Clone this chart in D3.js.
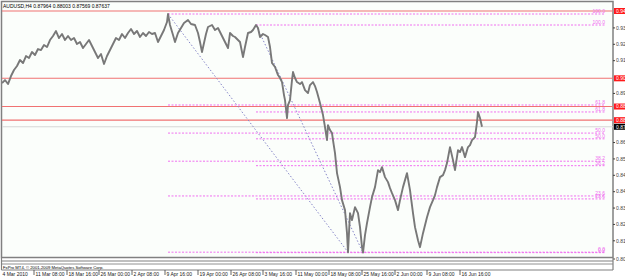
<!DOCTYPE html>
<html><head><meta charset="utf-8">
<script src="https://cdn.jsdelivr.net/npm/d3@7"></script>
<style>html,body{margin:0;padding:0;background:#fff;}svg{display:block;}</style>
</head><body>
<script>
// ---------- data ----------
const symbolTitle = "AUDUSD,H4  0.87964 0.88003 0.87569 0.87637";
const copyright = "FxPro MT4, \u00a9 2001-2009 MetaQuotes Software Corp.";
const barIndex = [0,3,6,9,12,15,18,21,24,27,30,33,36,39,42,45,48,51,54,57,60,63,66,69,72,75,78,81,84,87,90,93,96,99,102,105,108,111,114,117,120,123,126,129,132,135,138,141,144,147,150,153,156,159,162,165,166,168,171,173,176,179,182,186,189,193,196,198,200,202,204,206,210,213,216,218,221,224,226,228,231,233,236,238,241,243,246,249,251,254,256,258,261,263,266,268,270,273,276,278,280,282,283,285,286,288,290,291,293,295,298,300,303,306,308,311,313,315,318,321,323,325,326,328,330,331,333,335,338,340,343,345,346,348,350,353,356,358,360,361,363,365,368,370,373,376,378,380,383,386,388,390,393,396,398,401,403,405,408,411,413,416,418,421,423,425,428,431,433,435,438,441,443,445,448,451,453,456,458,460,463,466,468,470,473,475,476,478,480];
const closePrice = [0.90040,0.90205,0.89985,0.90425,0.90755,0.90975,0.91305,0.91140,0.91525,0.91415,0.91745,0.91580,0.91910,0.91855,0.92130,0.92020,0.92405,0.92625,0.92900,0.92515,0.92735,0.92405,0.92625,0.92405,0.92515,0.92185,0.92295,0.91965,0.92185,0.92405,0.92075,0.91745,0.91415,0.91635,0.91085,0.91525,0.91855,0.92185,0.92515,0.92405,0.92735,0.92515,0.92790,0.93010,0.92735,0.92900,0.92570,0.92790,0.92625,0.92845,0.92735,0.92790,0.92295,0.92625,0.92955,0.93395,0.93835,0.93230,0.92680,0.92295,0.92790,0.93065,0.93340,0.93505,0.93285,0.93230,0.92790,0.92295,0.91745,0.92240,0.92735,0.93120,0.93230,0.92955,0.93065,0.92845,0.92515,0.92185,0.91965,0.92790,0.92625,0.92570,0.92405,0.92295,0.91470,0.92020,0.92790,0.92845,0.92955,0.93230,0.93065,0.92570,0.92735,0.92680,0.92570,0.92020,0.91140,0.90920,0.90480,0.90315,0.90095,0.89380,0.89105,0.88115,0.88830,0.89105,0.90205,0.90645,0.90315,0.90095,0.89985,0.90095,0.89655,0.89490,0.89930,0.90095,0.89875,0.89545,0.88940,0.88280,0.87620,0.86905,0.87730,0.87455,0.87290,0.86905,0.86190,0.85090,0.84320,0.83605,0.83055,0.81790,0.80745,0.82890,0.82505,0.83220,0.82890,0.82120,0.81020,0.80720,0.81680,0.82340,0.83220,0.83770,0.84320,0.85255,0.85145,0.85420,0.84870,0.84595,0.84265,0.83990,0.83605,0.83055,0.83605,0.84320,0.84705,0.85090,0.84155,0.82890,0.82120,0.81405,0.81020,0.81790,0.82230,0.82670,0.83220,0.83605,0.83880,0.84320,0.84870,0.84980,0.85255,0.85640,0.86520,0.85805,0.85255,0.86355,0.86245,0.86520,0.85970,0.86520,0.86630,0.86905,0.87070,0.87895,0.88445,0.88115,0.87637];
const dateLabels = ["4 Mar 2010","11 Mar 08:00","18 Mar 16:00","26 Mar 00:00","2 Apr 08:00","9 Apr 16:00","19 Apr 00:00","26 Apr 08:00","3 May 16:00","11 May 00:00","18 May 08:00","25 May 16:00","2 Jun 00:00","9 Jun 08:00","16 Jun 16:00"];
const dateBars = [-1,32,65,97,130,163,196,229,261,294,327,360,393,425,458];
const priceTicks = [0.93070,0.92170,0.91270,0.89470,0.86770,0.85870,0.84970,0.84070,0.83170,0.82270,0.81370,0.80370];
const redLevels = [0.94000,0.90300,0.88750,0.88000];
const lastPrice = 0.87637;
const fibRatios = [0,23.6,38.2,50,61.8,100];
const fibHighBars = [166,254];
const fibHighs = [0.93835,0.93230];
const fibLowBars = [346,361];
const fibLows = [0.80745,0.80720];

// ---------- layout ----------
const W = 625, H = 277;
const x = d3.scaleLinear().domain([0, 611]).range([2, 613]);
const y = d3.scaleLinear().domain([0.80370, 0.94000]).range([259, 11]);
const font = "'Liberation Sans', Arial, sans-serif";

const svg = d3.select("body").append("svg").attr("width", W).attr("height", H)
  .style("font-family", font);
svg.append("rect").attr("width", W).attr("height", H).attr("fill", "#ffffff");

svg.append("rect").attr("x", 1.5).attr("y", 1.5).attr("width", 611.5).attr("height", 256)
  .attr("fill", "#fbfefb").attr("stroke", "#808080").attr("stroke-width", 1.5);
svg.append("defs").append("clipPath").attr("id", "plot")
  .append("rect").attr("x", 2).attr("y", 2).attr("width", 611).attr("height", 255);
const plot = svg.append("g").attr("clip-path", "url(#plot)");

plot.append("line").attr("x1", 2).attr("x2", 613).attr("y1", y(lastPrice)).attr("y2", y(lastPrice))
  .attr("stroke", "#d6d6d6").attr("stroke-width", 1);

plot.selectAll(".red").data(redLevels).join("line")
  .attr("x1", 2).attr("x2", 613).attr("y1", d => y(d)).attr("y2", d => y(d))
  .attr("stroke", "#f07272").attr("stroke-width", 1.1);

fibHighs.forEach((hi, i) => {
  const lo = fibLows[i];
  const x0 = x(fibHighBars[i]);
  plot.append("line").attr("x1", x0).attr("y1", y(hi))
    .attr("x2", x(fibLowBars[i])).attr("y2", y(lo))
    .attr("stroke", "#8585c8").attr("stroke-width", 1).attr("stroke-dasharray", "1.5,2");
  fibRatios.forEach(r => {
    const v = lo + (hi - lo) * r / 100;
    plot.append("line").attr("x1", x0).attr("x2", 605).attr("y1", y(v)).attr("y2", y(v))
      .attr("stroke", "#f070f0").attr("stroke-width", 1).attr("stroke-dasharray", "2,1.5");
    plot.append("text").attr("x", 605).attr("y", y(v) - 0.8).attr("text-anchor", "end")
      .attr("font-size", 5).attr("fill", "#f070f0").text(r.toFixed(1));
  });
});

const series = barIndex.map((b, i) => ({b, p: closePrice[i]}));
plot.append("path").datum(series)
  .attr("d", d3.line().x(d => x(d.b)).y(d => y(d.p)))
  .attr("fill", "none").attr("stroke", "#787878").attr("stroke-width", 1.9)
  .attr("stroke-linejoin", "round");

svg.append("text").attr("x", 3).attr("y", 7.5).attr("font-size", 5).attr("fill", "#000")
  .text(symbolTitle);

const ax = svg.append("g");
priceTicks.forEach(v => {
  ax.append("line").attr("x1", 613).attr("x2", 615).attr("y1", y(v)).attr("y2", y(v))
    .attr("stroke", "#404040").attr("stroke-width", 1);
  ax.append("text").attr("x", 616).attr("y", y(v) + 1.8).attr("font-size", 5)
    .attr("fill", "#404040").text(v.toFixed(5));
});
redLevels.forEach(v => {
  ax.append("rect").attr("x", 614).attr("y", y(v) - 3).attr("width", 12).attr("height", 6)
    .attr("fill", "#ff1a1a");
  ax.append("text").attr("x", 616).attr("y", y(v) + 1.8).attr("font-size", 5)
    .attr("fill", "#ffffff").text(v.toFixed(5));
});
ax.append("rect").attr("x", 614).attr("y", y(lastPrice) - 3).attr("width", 12).attr("height", 6)
  .attr("fill", "#000000");
ax.append("text").attr("x", 616).attr("y", y(lastPrice) + 1.8).attr("font-size", 5)
  .attr("fill", "#ffffff").text(lastPrice.toFixed(5));

svg.append("line").attr("x1", 1.5).attr("x2", 613).attr("y1", 261).attr("y2", 261)
  .attr("stroke", "#808080").attr("stroke-width", 1.2);
svg.append("line").attr("x1", 1.5).attr("x2", 613).attr("y1", 264).attr("y2", 264)
  .attr("stroke", "#909090").attr("stroke-width", 1);
svg.append("line").attr("x1", 1.5).attr("x2", 1.5).attr("y1", 258).attr("y2", 270)
  .attr("stroke", "#808080").attr("stroke-width", 1.2);
svg.append("line").attr("x1", 613).attr("x2", 613).attr("y1", 258).attr("y2", 270)
  .attr("stroke", "#808080").attr("stroke-width", 1.2);
svg.append("text").attr("x", 3).attr("y", 268.5).attr("font-size", 4.2).attr("fill", "#000")
  .text(copyright);
svg.append("line").attr("x1", 1.5).attr("x2", 613).attr("y1", 270).attr("y2", 270)
  .attr("stroke", "#808080").attr("stroke-width", 1.2);

dateLabels.forEach((t, i) => {
  const px = x(dateBars[i]);
  if (i > 0) svg.append("line").attr("x1", px).attr("x2", px).attr("y1", 270).attr("y2", 275)
    .attr("stroke", "#404040").attr("stroke-width", 0.8);
  svg.append("text").attr("x", px + 1.5).attr("y", 275.5).attr("font-size", 5)
    .attr("fill", "#202020").text(t);
});
</script>
</body></html>
